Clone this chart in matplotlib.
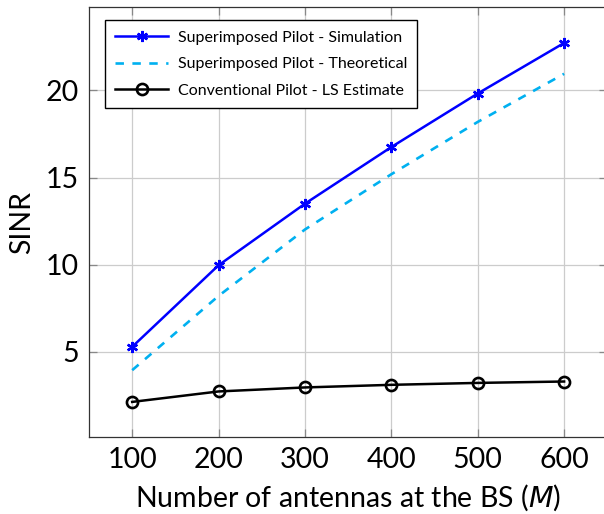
import matplotlib
matplotlib.use("Agg")
import matplotlib.pyplot as plt

# values
antennas = [100, 200, 300, 400, 500, 600]
sp_sim = [5.29, 9.97, 13.5, 16.75, 19.82, 22.72]
sp_theory = [3.95, 8.21, 12.02, 15.19, 18.19, 20.95]
conv_ls = [2.13, 2.73, 2.96, 3.11, 3.22, 3.30]

labels = ["Superimposed Pilot - Simulation",
          "Superimposed Pilot - Theoretical",
          "Conventional Pilot - LS Estimate"]

plt.rcParams['font.family'] = ['Lato', 'DejaVu Sans']

fig = plt.figure(figsize=(6.04, 5.14), dpi=100)
ax = fig.add_axes([89/604, 1 - 437.3/514, (607.3 - 89)/604, (437.3 - 6.7)/514])

ax.plot(antennas, sp_sim, color='#0000ff', lw=1.8, marker=(6, 2, 0),
        markersize=8, mew=1.7, label=labels[0])
ax.plot(antennas, sp_theory, color='#00b0f0', lw=1.9, ls=(0, (3.2, 3.2)),
        label=labels[1])
ax.plot(antennas, conv_ls, color='black', lw=1.8, marker='o', markersize=8,
        mfc='none', mew=1.9, label=labels[2])

ax.set_xlim(50, 650)
ax.set_ylim(0.1, 24.8)
ax.set_xticks(antennas)
ax.set_yticks([5, 10, 15, 20])
ax.grid(True, color='#cccccc', lw=0.9)
ax.set_axisbelow(True)
ax.tick_params(direction='in', length=6, width=0.9, color='#888888',
               labelsize=20.5, top=True, right=True, pad=7)
for s in ax.spines.values():
    s.set_color('#333333')
    s.set_linewidth(0.9)

ax.set_xlabel("Number of antennas at the BS ($M$)", fontsize=20.5, labelpad=7)
ax.set_ylabel("SINR", fontsize=20.5, labelpad=8)

leg = ax.legend(loc='upper left', bbox_to_anchor=(105/604, 1 - 20/514),
                bbox_transform=fig.transFigure, fontsize=11.5, fancybox=False,
                framealpha=1, edgecolor='black', handlelength=3.3,
                handletextpad=0.6, borderpad=0.65, labelspacing=0.78,
                borderaxespad=0)
leg.get_frame().set_linewidth(1.0)

fig.savefig("out.png", dpi=100)
